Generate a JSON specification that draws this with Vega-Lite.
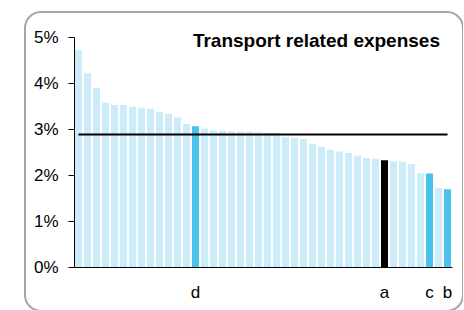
{
  "$schema": "https://vega.github.io/schema/vega-lite/v6.json",
  "autosize": "none",
  "padding": {"left": 25, "top": 12, "right": 0, "bottom": 0},
  "width": 438,
  "height": 299,
  "config": {
    "view": {"stroke": "#a6a6a6", "strokeWidth": 2, "cornerRadius": 16},
    "font": "Liberation Sans"
  },
  "title": {
    "text": "Transport related expenses",
    "anchor": "end",
    "orient": "top",
    "offset": -54,
    "dx": -23,
    "baseline": "alphabetic",
    "font": "Liberation Sans",
    "fontSize": 19,
    "fontWeight": "bold",
    "color": "#000000"
  },
  "data": {
    "values": [
      {"key": "p00", "value": 4.71, "grp": "base"},
      {"key": "p01", "value": 4.21, "grp": "base"},
      {"key": "p02", "value": 3.89, "grp": "base"},
      {"key": "p03", "value": 3.57, "grp": "base"},
      {"key": "p04", "value": 3.52, "grp": "base"},
      {"key": "p05", "value": 3.52, "grp": "base"},
      {"key": "p06", "value": 3.49, "grp": "base"},
      {"key": "p07", "value": 3.46, "grp": "base"},
      {"key": "p08", "value": 3.44, "grp": "base"},
      {"key": "p09", "value": 3.37, "grp": "base"},
      {"key": "p10", "value": 3.33, "grp": "base"},
      {"key": "p11", "value": 3.25, "grp": "base"},
      {"key": "p12", "value": 3.11, "grp": "base"},
      {"key": "d", "value": 3.06, "grp": "peer"},
      {"key": "p14", "value": 3.01, "grp": "base"},
      {"key": "p15", "value": 2.97, "grp": "base"},
      {"key": "p16", "value": 2.96, "grp": "base"},
      {"key": "p17", "value": 2.95, "grp": "base"},
      {"key": "p18", "value": 2.94, "grp": "base"},
      {"key": "p19", "value": 2.94, "grp": "base"},
      {"key": "p20", "value": 2.93, "grp": "base"},
      {"key": "p21", "value": 2.92, "grp": "base"},
      {"key": "p22", "value": 2.92, "grp": "base"},
      {"key": "p23", "value": 2.82, "grp": "base"},
      {"key": "p24", "value": 2.81, "grp": "base"},
      {"key": "p25", "value": 2.78, "grp": "base"},
      {"key": "p26", "value": 2.68, "grp": "base"},
      {"key": "p27", "value": 2.61, "grp": "base"},
      {"key": "p28", "value": 2.55, "grp": "base"},
      {"key": "p29", "value": 2.51, "grp": "base"},
      {"key": "p30", "value": 2.48, "grp": "base"},
      {"key": "p31", "value": 2.42, "grp": "base"},
      {"key": "p32", "value": 2.37, "grp": "base"},
      {"key": "p33", "value": 2.35, "grp": "base"},
      {"key": "a", "value": 2.32, "grp": "focus"},
      {"key": "p35", "value": 2.30, "grp": "base"},
      {"key": "p36", "value": 2.29, "grp": "base"},
      {"key": "p37", "value": 2.24, "grp": "base"},
      {"key": "p38", "value": 2.03, "grp": "base"},
      {"key": "c", "value": 2.03, "grp": "peer"},
      {"key": "p40", "value": 1.72, "grp": "base"},
      {"key": "b", "value": 1.69, "grp": "peer"}
    ]
  },
  "encoding": {
    "x": {
      "field": "key",
      "type": "nominal",
      "sort": null,
      "scale": {"range": [49, 427], "paddingInner": 0.22, "paddingOuter": 0.11},
      "axis": {
        "title": null,
        "orient": "bottom",
        "offset": -44,
        "ticks": false,
        "labelAngle": 0,
        "labelPadding": 17,
        "labelFontSize": 17,
        "labelColor": "#000000",
        "labelFont": "Liberation Sans",
        "labelExpr": "length(datum.label) == 1 ? datum.label : ''",
        "domainColor": "#000000",
        "domainWidth": 1,
        "grid": false
      }
    }
  },
  "layer": [
    {
      "mark": {"type": "bar"},
      "encoding": {
        "y": {
          "field": "value",
          "type": "quantitative",
          "scale": {"domain": [0, 5], "range": [255, 25], "nice": false, "zero": true},
          "axis": {
            "title": null,
            "offset": -49,
            "values": [0, 1, 2, 3, 4, 5],
            "tickSize": 6,
            "tickColor": "#000000",
            "domainColor": "#000000",
            "labelPadding": 10,
            "labelFontSize": 17,
            "labelColor": "#000000",
            "labelFont": "Liberation Sans",
            "labelExpr": "datum.value + '%'",
            "grid": false
          }
        },
        "color": {
          "field": "grp",
          "type": "nominal",
          "scale": {"domain": ["base", "peer", "focus"], "range": ["#ccecfa", "#4bc2ea", "#000000"]},
          "legend": null
        }
      }
    },
    {
      "mark": {"type": "line", "color": "#000000", "strokeWidth": 2},
      "encoding": {
        "y": {"datum": 2.88, "type": "quantitative"}
      }
    }
  ]
}
